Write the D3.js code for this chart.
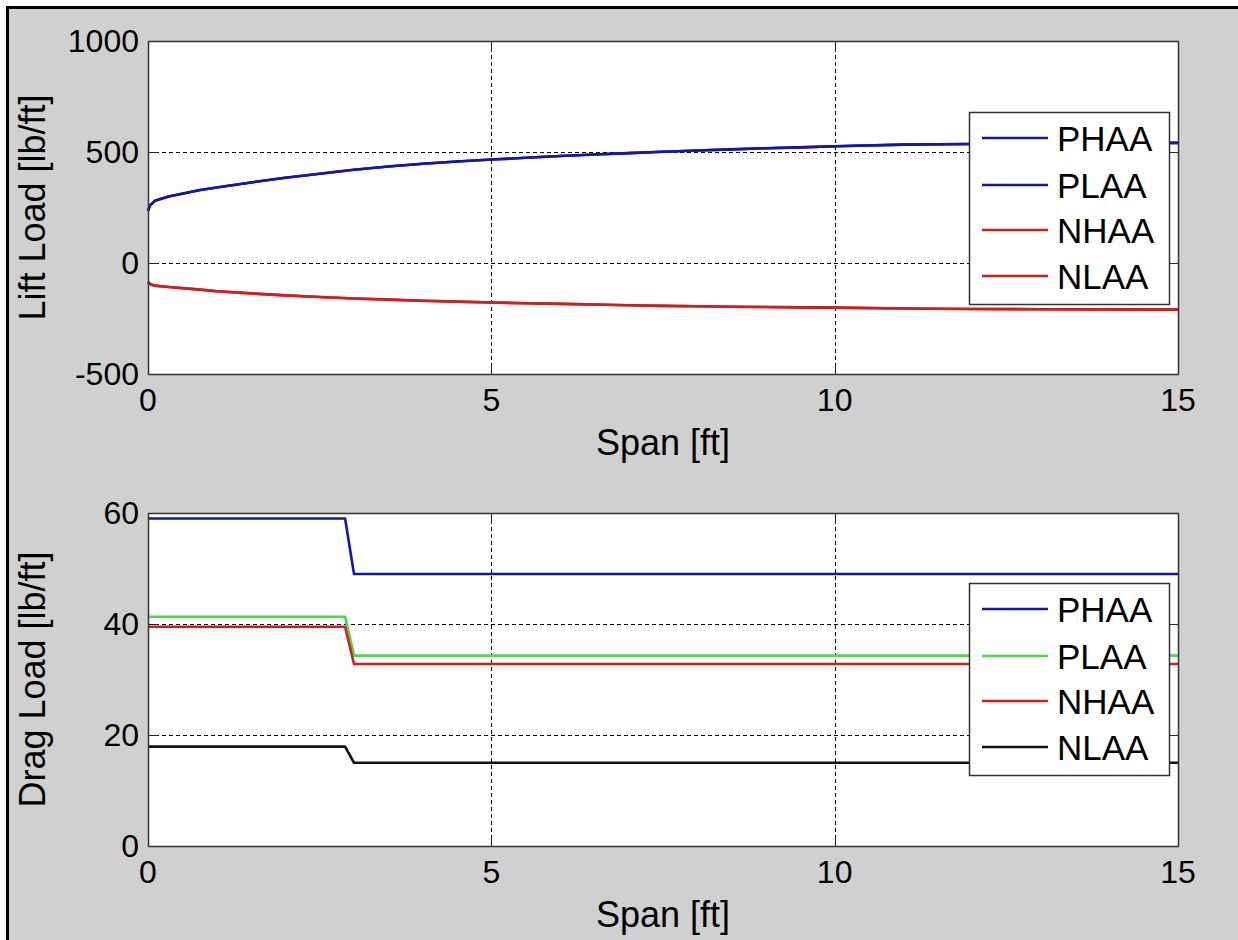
<!DOCTYPE html>
<html>
<head>
<meta charset="utf-8">
<script src="https://cdn.jsdelivr.net/npm/d3@7/dist/d3.min.js"></script>
<style>
  html, body { margin: 0; padding: 0; background: #ffffff; }
  svg { display: block; }
  text { font-family: "Liberation Sans", Arial, sans-serif; fill: #000; }
</style>
</head>
<body>
<svg id="fig" width="1238" height="940"></svg>
<script>
// ---- Lift load distribution along the span ----
const liftSpan = [0, 0.03, 0.1, 0.3, 0.76, 1, 1.5, 2, 2.5, 3, 3.5, 4, 4.5, 5, 5.5, 6, 6.5, 7, 7.5, 8, 8.5, 9, 9.5, 10, 11, 12, 13, 14, 15];
const liftPHAA = [235, 260, 280, 300, 329, 340, 363, 384, 402, 420, 435, 447, 457, 466, 474, 482, 489, 495, 501, 507, 512, 517, 521, 526, 533, 536, 538, 540, 541];
const liftPLAA = [235, 260, 280, 300, 329, 340, 363, 384, 402, 420, 435, 447, 457, 466, 474, 482, 489, 495, 501, 507, 512, 517, 521, 526, 533, 536, 538, 540, 541];
const liftNHAA = [-85, -95, -102, -108, -120, -127, -137, -146, -153, -160, -165, -170, -174, -178, -181, -184, -187, -190, -193, -195, -197, -198, -200, -201, -205, -207, -208, -209, -210];
const liftNLAA = [-85, -95, -102, -108, -120, -127, -137, -146, -153, -160, -165, -170, -174, -178, -181, -184, -187, -190, -193, -195, -197, -198, -200, -201, -205, -207, -208, -209, -210];

// ---- Drag load distribution along the span ----
const dragSpan = [0, 2.87, 3.0, 15];
const dragPHAA = [59, 59, 49, 49];
const dragPLAA = [41.3, 41.3, 34.3, 34.3];
const dragNHAA = [39.5, 39.5, 32.8, 32.8];
const dragNLAA = [17.9, 17.9, 15, 15];

const seriesNames = ["PHAA", "PLAA", "NHAA", "NLAA"];
const xTicks = [0, 5, 10, 15];
const liftTicks = [-500, 0, 500, 1000];
const dragTicks = [0, 20, 40, 60];

const BLUE = "#1414b0", RED = "#d41c1c", GREEN = "#44dd44", BLACK = "#111111";

const svg = d3.select("#fig");

// figure background with frame on the top and left edges
svg.append("rect").attr("x", 6).attr("y", 6).attr("width", 1238).attr("height", 940).attr("fill", "#d0d0d0");
svg.append("line").attr("x1", 7.5).attr("x2", 7.5).attr("y1", 6).attr("y2", 940).attr("stroke", "#000").attr("stroke-width", 3);
svg.append("line").attr("x1", 6).attr("x2", 1238).attr("y1", 7.5).attr("y2", 7.5).attr("stroke", "#000").attr("stroke-width", 3);

function drawAxes(cfg) {
  const x = d3.scaleLinear().domain([0, 15]).range([cfg.left, cfg.right]);
  const y = d3.scaleLinear().domain(cfg.yDomain).range([cfg.bottom, cfg.top]);
  const g = svg.append("g");

  g.append("rect")
    .attr("x", cfg.left).attr("y", cfg.top)
    .attr("width", cfg.right - cfg.left).attr("height", cfg.bottom - cfg.top)
    .attr("fill", "#ffffff");

  // dashed grid at interior ticks
  const gridStyle = sel => sel.attr("stroke", "#000").attr("stroke-width", 1).attr("stroke-dasharray", "4,3");
  g.selectAll(".gx").data(cfg.xTicks.filter(t => t > 0 && t < 15)).enter().append("line")
    .attr("x1", d => Math.round(x(d)) + 0.5).attr("x2", d => Math.round(x(d)) + 0.5)
    .attr("y1", cfg.top).attr("y2", cfg.bottom).call(gridStyle);
  g.selectAll(".gy").data(cfg.yTicks.filter(t => t > cfg.yDomain[0] && t < cfg.yDomain[1])).enter().append("line")
    .attr("y1", d => Math.round(y(d)) + 0.5).attr("y2", d => Math.round(y(d)) + 0.5)
    .attr("x1", cfg.left).attr("x2", cfg.right).call(gridStyle);

  // data lines
  const line = d3.line().x(d => x(d[0])).y(d => y(d[1]));
  cfg.series.forEach(s => {
    g.append("path")
      .datum(cfg.span.map((v, i) => [v, s.values[i]]))
      .attr("d", line)
      .attr("fill", "none").attr("stroke", s.color).attr("stroke-width", 2.6)
      .attr("stroke-linejoin", "round");
  });

  // inward ticks on all four sides
  const tl = 10;
  const tickStyle = sel => sel.attr("stroke", "#222").attr("stroke-width", 1);
  cfg.xTicks.forEach(t => {
    const px = Math.round(x(t)) + 0.5;
    g.append("line").attr("x1", px).attr("x2", px).attr("y1", cfg.bottom).attr("y2", cfg.bottom - tl).call(tickStyle);
    g.append("line").attr("x1", px).attr("x2", px).attr("y1", cfg.top).attr("y2", cfg.top + tl).call(tickStyle);
  });
  cfg.yTicks.forEach(t => {
    const py = Math.round(y(t)) + 0.5;
    g.append("line").attr("y1", py).attr("y2", py).attr("x1", cfg.left).attr("x2", cfg.left + tl).call(tickStyle);
    g.append("line").attr("y1", py).attr("y2", py).attr("x1", cfg.right).attr("x2", cfg.right - tl).call(tickStyle);
  });

  // box
  g.append("rect")
    .attr("x", cfg.left + 0.5).attr("y", cfg.top + 0.5)
    .attr("width", cfg.right - cfg.left).attr("height", cfg.bottom - cfg.top)
    .attr("fill", "none").attr("stroke", "#333").attr("stroke-width", 1.5);

  // tick labels
  g.selectAll(".xl").data(cfg.xTicks).enter().append("text")
    .attr("x", d => x(d)).attr("y", cfg.bottom + 26)
    .attr("dy", "0.35em").attr("text-anchor", "middle")
    .style("font-size", "32px").text(d => d);
  g.selectAll(".yl").data(cfg.yTicks).enter().append("text")
    .attr("x", cfg.left - 9).attr("y", d => y(d))
    .attr("dy", "0.35em").attr("text-anchor", "end")
    .style("font-size", "32px").text(d => d);

  // axis titles
  g.append("text")
    .attr("x", (cfg.left + cfg.right) / 2).attr("y", cfg.bottom + 68)
    .attr("dy", "0.35em").attr("text-anchor", "middle")
    .style("font-size", "36px").text(cfg.xLabel);
  g.append("text")
    .attr("transform", `translate(45,${(cfg.top + cfg.bottom) / 2}) rotate(-90)`)
    .attr("text-anchor", "middle")
    .style("font-size", "36px").text(cfg.yLabel);

  // legend
  const lg = g.append("g").attr("transform", `translate(${cfg.legend.x},${cfg.legend.y})`);
  lg.append("rect").attr("x", 0.5).attr("y", 0.5).attr("width", 200).attr("height", 192)
    .attr("fill", "#ffffff").attr("stroke", "#333").attr("stroke-width", 1.5);
  const rowY = [26, 73, 118, 164];
  cfg.series.forEach((s, i) => {
    lg.append("line").attr("x1", 13).attr("x2", 79).attr("y1", rowY[i]).attr("y2", rowY[i])
      .attr("stroke", s.color).attr("stroke-width", 2.6);
    lg.append("text").attr("x", 88).attr("y", rowY[i]).attr("dy", "0.36em")
      .style("font-size", "35px").text(s.name);
  });
}

drawAxes({
  left: 148, right: 1178, top: 41, bottom: 374,
  yDomain: [-500, 1000], yTicks: liftTicks, xTicks: xTicks,
  span: liftSpan,
  series: [
    { name: seriesNames[0], values: liftPHAA, color: BLUE },
    { name: seriesNames[1], values: liftPLAA, color: BLUE },
    { name: seriesNames[2], values: liftNHAA, color: RED },
    { name: seriesNames[3], values: liftNLAA, color: RED }
  ],
  xLabel: "Span [ft]", yLabel: "Lift Load [lb/ft]",
  legend: { x: 969, y: 112 }
});

drawAxes({
  left: 148, right: 1178, top: 513, bottom: 846,
  yDomain: [0, 60], yTicks: dragTicks, xTicks: xTicks,
  span: dragSpan,
  series: [
    { name: seriesNames[0], values: dragPHAA, color: BLUE },
    { name: seriesNames[1], values: dragPLAA, color: GREEN },
    { name: seriesNames[2], values: dragNHAA, color: RED },
    { name: seriesNames[3], values: dragNLAA, color: BLACK }
  ],
  xLabel: "Span [ft]", yLabel: "Drag Load [lb/ft]",
  legend: { x: 969, y: 583 }
});
</script>
</body>
</html>
